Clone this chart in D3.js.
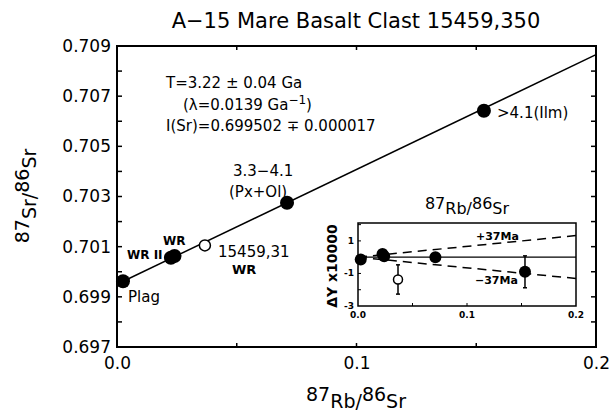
<!DOCTYPE html>
<html>
<head>
<meta charset="utf-8">
<script src="https://cdn.jsdelivr.net/npm/d3@7"></script>
<style>
  body { margin: 0; background: #fff; }
  svg { display: block; }
  text { font-family: "DejaVu Sans", "Liberation Sans", sans-serif; fill: #000; }
</style>
</head>
<body>
<svg id="chart" width="613" height="418"></svg>
<script>
// isochron data
const samples = ["Plag", "WR II", "WR", "15459,31", "Px+Ol", "Ilm"];
const rbSr = [0.0025, 0.0225, 0.0240, 0.0367, 0.0710, 0.1532];
const srSr = [0.69962, 0.70056, 0.70063, 0.70105, 0.70275, 0.70642];
const isOpen = [false, false, false, true, false, false];

// residuals for inset (dY x 10000)
const resid = [-0.14, 0.2, 0.05, -1.37, 0.0, -0.9];
const residErr = [0, 0, 0, 0.9, 0, 0.98];

// fitted line + age envelope
const isoX = [0, 0.2];
const isoY = [0.699502, 0.708656];
const envX = [0, 0.2];
const envPlus = [0, 1.33];
const envMinus = [0, -1.31];

// ticks
const xTickVals = [0, 0.1, 0.2];
const xTickLabels = ["0.0", "0.1", "0.2"];
const xMinor = [0.05, 0.1, 0.15];
const yTickVals = [0.697, 0.699, 0.701, 0.703, 0.705, 0.707, 0.709];
const yTickLabels = ["0.697", "0.699", "0.701", "0.703", "0.705", "0.707", "0.709"];
const yMinor = [0.698, 0.699, 0.700, 0.701, 0.702, 0.703, 0.704, 0.705, 0.706, 0.707, 0.708];
const insetXTicks = [0, 0.1, 0.2];
const insetXLabels = ["0.0", "0.1", "0.2"];
const insetYTicks = [1, -1, -3];
const insetYLabels = ["1", "-1", "-3"];
const insetYMinor = [2, 1, 0, -1, -2];

const svg = d3.select('#chart');

const x = d3.scaleLinear().domain([0, 0.2]).range([117, 596]);
const y = d3.scaleLinear().domain([0.697, 0.709]).range([347, 46]);

// title
svg.append('text')
  .attr('x', 356).attr('y', 28)
  .attr('text-anchor', 'middle')
  .style('font-size', '21px')
  .text('A\u221215 Mare Basalt Clast 15459,350');

// axes (ticks pointing inside)
const tickFmt = (d) => yTickLabels[yTickVals.indexOf(d)];
svg.append('g')
  .attr('transform', 'translate(117,0)')
  .call(d3.axisLeft(y).tickValues(yTickVals).tickSize(0).tickPadding(6).tickFormat(tickFmt))
  .call(g => g.select('.domain').remove())
  .selectAll('text').style('font-size', '17px').style('font-family', '"DejaVu Sans", sans-serif');

svg.append('g')
  .attr('transform', 'translate(0,347)')
  .call(d3.axisBottom(x).tickValues(xTickVals).tickSize(0).tickPadding(10)
    .tickFormat(d => xTickLabels[xTickVals.indexOf(d)]))
  .call(g => g.select('.domain').remove())
  .selectAll('text').style('font-size', '17px').style('font-family', '"DejaVu Sans", sans-serif');

const ticks = svg.append('g').attr('stroke', '#000').attr('stroke-width', 1.5);
ticks.selectAll('.yl').data(yMinor).enter().append('line')
  .attr('x1', 117).attr('x2', 122).attr('y1', d => y(d)).attr('y2', d => y(d));
ticks.selectAll('.yr').data(yMinor).enter().append('line')
  .attr('x1', 596).attr('x2', 591).attr('y1', d => y(d)).attr('y2', d => y(d));
ticks.selectAll('.xb').data(xMinor).enter().append('line')
  .attr('x1', d => x(d)).attr('x2', d => x(d)).attr('y1', 347).attr('y2', 343);
ticks.selectAll('.xt').data(xMinor).enter().append('line')
  .attr('x1', d => x(d)).attr('x2', d => x(d)).attr('y1', 46).attr('y2', 50);

svg.append('rect')
  .attr('x', 117).attr('y', 46)
  .attr('width', 596 - 117).attr('height', 347 - 46)
  .attr('fill', 'none').attr('stroke', '#000').attr('stroke-width', 2);

// axis titles
const xt = svg.append('text').attr('x', 356).attr('y', 408).attr('text-anchor', 'middle').style('font-size', '19px');
xt.append('tspan').attr('dy', -7).text('87');
xt.append('tspan').attr('dy', 7).text('Rb/');
xt.append('tspan').attr('dy', -7).text('86');
xt.append('tspan').attr('dy', 7).text('Sr');

const yt = svg.append('text').attr('transform', 'translate(36,196) rotate(-90)').attr('text-anchor', 'middle').style('font-size', '19px');
yt.append('tspan').attr('dy', -7).text('87');
yt.append('tspan').attr('dy', 7).text('Sr/');
yt.append('tspan').attr('dy', -7).text('86');
yt.append('tspan').attr('dy', 7).text('Sr');

// isochron
svg.append('line')
  .attr('x1', x(isoX[0])).attr('y1', y(isoY[0]))
  .attr('x2', x(isoX[1])).attr('y2', y(isoY[1]))
  .attr('stroke', '#000').attr('stroke-width', 1.5);

svg.append('g')
  .selectAll('circle')
  .data(samples)
  .enter()
  .append('circle')
    .attr('cx', (d, i) => x(rbSr[i]))
    .attr('cy', (d, i) => y(srSr[i]))
    .attr('r', (d, i) => isOpen[i] ? 5.5 : 7)
    .attr('fill', (d, i) => isOpen[i] ? '#fff' : '#000')
    .attr('stroke', '#000')
    .attr('stroke-width', (d, i) => isOpen[i] ? 1.5 : 0);

// annotations
const note = svg.append('g').style('font-size', '15px');
note.append('text').attr('x', 166).attr('y', 88).text('T=3.22 \u00b1 0.04 Ga');
const lam = note.append('text').attr('x', 183).attr('y', 110);
lam.append('tspan').text('(\u03bb=0.0139 Ga');
lam.append('tspan').attr('dy', -6).style('font-size', '12px').text('\u22121');
lam.append('tspan').attr('dy', 6).text(')');
note.append('text').attr('x', 166).attr('y', 131).text('I(Sr)=0.699502 \u2213 0.000017');
note.append('text').attr('x', 497).attr('y', 118).text('>4.1(Ilm)');
note.append('text').attr('x', 233).attr('y', 176).text('3.3\u22124.1');
note.append('text').attr('x', 229).attr('y', 197).text('(Px+Ol)');
note.append('text').attr('x', 218).attr('y', 257).text('15459,31');
note.append('text').attr('x', 128).attr('y', 302).text('Plag');
note.append('text').attr('x', 232).attr('y', 274).style('font-size', '13px').style('font-weight', 'bold').text('WR');
note.append('text').attr('x', 127).attr('y', 259).style('font-size', '12px').style('font-weight', 'bold').text('WR II');
note.append('text').attr('x', 163).attr('y', 245).style('font-size', '12px').style('font-weight', 'bold').text('WR');

// inset: residuals
const ix = d3.scaleLinear().domain([0, 0.2]).range([358, 576]);
const iy = d3.scaleLinear().domain([-3, 2.1]).range([306, 223]);
const inset = svg.append('g');

inset.append('rect')
  .attr('x', 358).attr('y', 223)
  .attr('width', 576 - 358).attr('height', 306 - 223)
  .attr('fill', '#fff').attr('stroke', '#000').attr('stroke-width', 1.5);

inset.selectAll('.iyt').data(insetYMinor).enter().append('line')
  .attr('x1', 358).attr('x2', 361).attr('y1', d => iy(d)).attr('y2', d => iy(d))
  .attr('stroke', '#000');
inset.selectAll('.ixt').data([0.05, 0.1, 0.15]).enter().append('line')
  .attr('x1', d => ix(d)).attr('x2', d => ix(d)).attr('y1', 306).attr('y2', 303)
  .attr('stroke', '#000');

inset.selectAll('.iyl').data(insetYTicks).enter().append('text')
  .attr('x', 354).attr('y', d => iy(d) + 3)
  .attr('text-anchor', 'end')
  .style('font-size', '9px').style('font-weight', 'bold')
  .text((d, i) => insetYLabels[i]);
inset.selectAll('.ixl').data(insetXTicks).enter().append('text')
  .attr('x', d => ix(d)).attr('y', 318)
  .attr('text-anchor', 'middle')
  .style('font-size', '9px').style('font-weight', 'bold')
  .text((d, i) => insetXLabels[i]);

inset.append('line')
  .attr('x1', ix(0)).attr('x2', ix(0.2)).attr('y1', iy(0)).attr('y2', iy(0))
  .attr('stroke', '#000').attr('stroke-width', 1.2);

[envPlus, envMinus].forEach((env) => {
  inset.append('line')
    .attr('x1', ix(envX[0])).attr('y1', iy(env[0]))
    .attr('x2', ix(envX[1])).attr('y2', iy(env[1]))
    .attr('stroke', '#000').attr('stroke-width', 1.5)
    .attr('stroke-dasharray', '9,6');
});

inset.append('text').attr('x', 476).attr('y', 240).style('font-size', '11px').style('font-weight', 'bold').text('+37Ma');
inset.append('text').attr('x', 475).attr('y', 284).style('font-size', '11px').style('font-weight', 'bold').text('\u221237Ma');

const errG = inset.append('g').attr('stroke', '#000').attr('stroke-width', 1.5);
samples.forEach((s, i) => {
  if (!residErr[i]) return;
  const cx = ix(rbSr[i]);
  errG.append('line').attr('x1', cx).attr('x2', cx)
    .attr('y1', iy(resid[i] + residErr[i])).attr('y2', iy(resid[i] - residErr[i]));
  errG.append('line').attr('x1', cx - 2).attr('x2', cx + 2)
    .attr('y1', iy(resid[i] + residErr[i])).attr('y2', iy(resid[i] + residErr[i]));
  errG.append('line').attr('x1', cx - 2).attr('x2', cx + 2)
    .attr('y1', iy(resid[i] - residErr[i])).attr('y2', iy(resid[i] - residErr[i]));
});

inset.append('g')
  .selectAll('circle')
  .data(samples)
  .enter()
  .append('circle')
    .attr('cx', (d, i) => ix(rbSr[i]))
    .attr('cy', (d, i) => iy(resid[i]))
    .attr('r', (d, i) => isOpen[i] ? 4.5 : 6)
    .attr('fill', (d, i) => isOpen[i] ? '#fff' : '#000')
    .attr('stroke', '#000')
    .attr('stroke-width', (d, i) => isOpen[i] ? 1.5 : 0);

const it = svg.append('text').attr('x', 467).attr('y', 214).attr('text-anchor', 'middle').style('font-size', '16px');
it.append('tspan').attr('dy', -5).text('87');
it.append('tspan').attr('dy', 5).text('Rb/');
it.append('tspan').attr('dy', -5).text('86');
it.append('tspan').attr('dy', 5).text('Sr');

svg.append('text')
  .attr('transform', 'translate(337,266) rotate(-90)')
  .attr('text-anchor', 'middle')
  .style('font-size', '14px').style('font-weight', 'bold')
  .text('\u0394Y x10000');
</script>
</body>
</html>
